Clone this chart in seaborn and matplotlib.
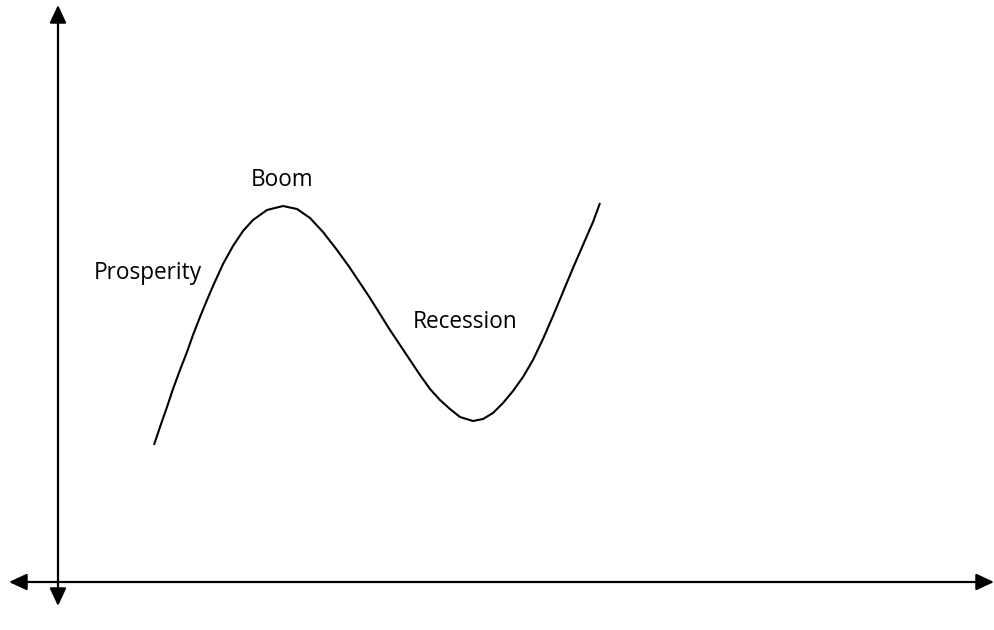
import matplotlib
matplotlib.use("Agg")
import matplotlib.pyplot as plt
import seaborn as sns
import pandas as pd

sns.set_theme(style="white")
plt.rcParams['font.family'] = ['Open Sans', 'DejaVu Sans']

# Curve points (x, y in picture units; y grows downward)
curve_x = [154, 160, 167, 173, 180, 187, 193, 200, 207, 213, 223, 233, 243, 253,
           267, 283, 297, 310, 323, 337, 350, 360, 370, 380, 390, 400, 410, 420,
           430, 440, 450, 460, 473, 483, 493, 503, 513, 523, 533, 543, 553, 563,
           573, 583, 593, 600]
curve_y = [445, 427, 407, 389, 370, 352, 335, 317, 300, 286, 264, 246, 231, 220,
           210, 206, 209, 218, 232, 250, 268, 283, 298, 314, 330, 345, 360, 375,
           389, 400, 409, 417, 421, 419, 413, 403, 391, 377, 360, 339, 316, 292,
           268, 245, 222, 203]

labels = ["Prosperity", "Boom", "Recession"]
label_x = [94, 282, 413]
label_y = [273, 180, 322]
label_ha = ["left", "center", "left"]

df = pd.DataFrame({"x": curve_x, "y": curve_y})

fig = plt.figure(figsize=(9.94, 6.30), dpi=100)
ax = fig.add_axes([0, 0, 1, 1])
ax.set_xlim(0, 994)
ax.set_ylim(630, 0)
ax.axis("off")

sns.lineplot(data=df, x="x", y="y", sort=False, color="black", linewidth=1.5,
             solid_joinstyle="round", solid_capstyle="butt", ax=ax)

arrow = dict(arrowstyle="<|-|>,head_length=0.9,head_width=0.42", color="black",
             lw=1.6, shrinkA=0, shrinkB=0)
ax.annotate("", xy=(58, 5), xytext=(58, 606), arrowprops=arrow)
ax.annotate("", xy=(9, 582), xytext=(994, 582), arrowprops=arrow)

for t, x, y, ha in zip(labels, label_x, label_y, label_ha):
    ax.text(x, y, t, ha=ha, va="center", fontsize=16.3, color="black")

fig.savefig("out.png", dpi=100)
